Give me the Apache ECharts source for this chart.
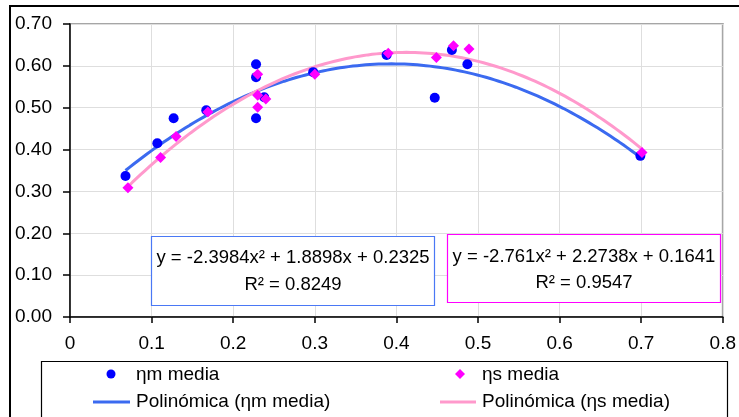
<!DOCTYPE html>
<html>
<head>
<meta charset="utf-8">
<script src="https://cdn.jsdelivr.net/npm/echarts@6/dist/echarts.min.js"></script>
<style>
  html, body { margin: 0; padding: 0; background: #ffffff; }
  #chart { width: 739px; height: 417px; }
</style>
</head>
<body>
<div id="chart"></div>
<script>
// Measured efficiencies against the abscissa
const xM = [0.068, 0.107, 0.127, 0.167, 0.228, 0.228, 0.228, 0.238, 0.298, 0.388, 0.447, 0.468, 0.487, 0.699];
const etaM = [0.337, 0.415, 0.475, 0.494, 0.604, 0.573, 0.475, 0.525, 0.585, 0.626, 0.524, 0.638, 0.604, 0.385];
const xS = [0.071, 0.111, 0.130, 0.169, 0.230, 0.230, 0.230, 0.240, 0.300, 0.390, 0.449, 0.470, 0.489, 0.701];
const etaS = [0.309, 0.381, 0.431, 0.490, 0.580, 0.530, 0.501, 0.521, 0.580, 0.630, 0.620, 0.648, 0.640, 0.393];

// Second-order polynomial trendlines: [a, b, c] for y = a x^2 + b x + c
const fitM = [-2.3984, 1.8898, 0.2325];
const r2M = 0.8249;
const fitS = [-2.761, 2.2738, 0.1641];
const r2S = 0.9547;

const xTicks = [0, 0.1, 0.2, 0.3, 0.4, 0.5, 0.6, 0.7, 0.8];
const yTicks = [0, 0.1, 0.2, 0.3, 0.4, 0.5, 0.6, 0.7];

const FONT = '"Liberation Sans", Arial, sans-serif';
const FS = 19;
const FS_EQ = 18.5;

const COL_M = '#0000ff';
const COL_S = '#ff00ff';
const COL_FIT_M = '#3b6af0';
const COL_FIT_S = '#ff99cc';

function zip(xs, ys) { return xs.map((x, i) => [x, ys[i]]); }

function trend(fit, xs) {
  const lo = Math.min(...xs), hi = Math.max(...xs);
  const pts = [];
  const n = 120;
  for (let i = 0; i <= n; i++) {
    const x = lo + (hi - lo) * i / n;
    pts.push([x, fit[0] * x * x + fit[1] * x + fit[2]]);
  }
  return pts;
}

function fmtEq(fit) {
  const s = v => (v < 0 ? '- ' : '+ ') + Math.abs(v);
  return 'y = ' + fit[0] + 'x\u00B2 ' + s(fit[1]) + 'x ' + s(fit[2]);
}

const names = ['ηm media', 'ηs media', 'Polinómica (ηm media)', 'Polinómica (ηs media)'];

function legendText(x, y, text) {
  return { type: 'text', x: x, y: y, z: 12, silent: true,
    style: { text: text, fontSize: FS, fontFamily: FONT, fill: '#000',
             textAlign: 'left', textVerticalAlign: 'middle' } };
}

function eqText(x, y, text) {
  return { type: 'text', x: x, y: y, z: 11, silent: true,
    style: { text: text, fontSize: FS_EQ, fontFamily: FONT, fill: '#000',
             textAlign: 'center', textVerticalAlign: 'middle' } };
}

const chart = echarts.init(document.getElementById('chart'), null, { renderer: 'canvas' });

const option = {
  backgroundColor: '#ffffff',
  animation: false,
  textStyle: { fontFamily: FONT },
  grid: {
    left: 70, top: 24, width: 659, height: 293,
    show: true, borderColor: '#a6a6a6', borderWidth: 2, backgroundColor: 'transparent'
  },
  xAxis: {
    type: 'value', min: xTicks[0], max: xTicks[xTicks.length - 1], interval: 0.1,
    axisLine: { show: true, onZero: false, lineStyle: { color: '#000', width: 1.5 } },
    axisTick: { show: true, inside: false, length: 6, lineStyle: { color: '#000', width: 1.5 } },
    splitLine: { show: true, lineStyle: { color: '#dedede', width: 1 } },
    axisLabel: {
      margin: 17, color: '#000', fontSize: FS, fontFamily: FONT,
      formatter: v => (Math.abs(v) < 1e-9 ? '0' : v.toFixed(1))
    }
  },
  yAxis: {
    type: 'value', min: yTicks[0], max: yTicks[yTicks.length - 1], interval: 0.1,
    axisLine: { show: true, onZero: false, lineStyle: { color: '#000', width: 1.5 } },
    axisTick: { show: true, inside: false, length: 7, lineStyle: { color: '#000', width: 1.5 } },
    splitLine: { show: true, lineStyle: { color: '#dedede', width: 1 } },
    axisLabel: {
      margin: 18, color: '#000', fontSize: FS, fontFamily: FONT,
      formatter: v => v.toFixed(2)
    }
  },
  series: [
    {
      name: names[2], type: 'line', symbol: 'none',
      data: trend(fitM, xM), lineStyle: { color: COL_FIT_M, width: 3 },
      itemStyle: { color: COL_FIT_M }, z: 2
    },
    {
      name: names[3], type: 'line', symbol: 'none',
      data: trend(fitS, xS), lineStyle: { color: COL_FIT_S, width: 3 },
      itemStyle: { color: COL_FIT_S }, z: 3
    },
    {
      name: names[0], type: 'scatter', symbol: 'circle', symbolSize: 10,
      data: zip(xM, etaM), itemStyle: { color: COL_M, opacity: 1 }, z: 4
    },
    {
      name: names[1], type: 'scatter', symbol: 'diamond', symbolSize: 11,
      data: zip(xS, etaS), itemStyle: { color: COL_S, opacity: 1 }, z: 5
    }
  ],
  graphic: [
    // outer chart frame
    { type: 'rect', shape: { x: 10, y: 6, width: 780, height: 460 },
      style: { fill: 'none', stroke: '#000', lineWidth: 2 }, z: 0, silent: true },
    // legend frame and entries
    { type: 'rect', shape: { x: 41.5, y: 361.5, width: 686, height: 80 },
      style: { fill: '#ffffff', stroke: '#000', lineWidth: 1.2 }, z: 10, silent: true },
    { type: 'circle', shape: { cx: 111, cy: 374, r: 4.5 }, style: { fill: COL_M }, z: 12, silent: true },
    legendText(136, 375, names[0]),
    { type: 'line', shape: { x1: 93, y1: 402, x2: 130, y2: 402 },
      style: { stroke: COL_FIT_M, lineWidth: 3 }, z: 12, silent: true },
    legendText(136, 402, names[2]),
    { type: 'polygon', shape: { points: [[460, 369], [465, 374], [460, 379], [455, 374]] },
      style: { fill: COL_S }, z: 12, silent: true },
    legendText(482, 375, names[1]),
    { type: 'line', shape: { x1: 440, y1: 402, x2: 476, y2: 402 },
      style: { stroke: COL_FIT_S, lineWidth: 3 }, z: 12, silent: true },
    legendText(482, 402, names[3]),
    // trendline equation boxes
    { type: 'rect', shape: { x: 151.5, y: 236.5, width: 283, height: 69 },
      style: { fill: '#ffffff', stroke: '#4a78f5', lineWidth: 1.2 }, z: 10, silent: true },
    eqText(293, 258, fmtEq(fitM)),
    eqText(293, 285, 'R\u00B2 = ' + r2M),
    { type: 'rect', shape: { x: 447.5, y: 234.5, width: 273, height: 68 },
      style: { fill: '#ffffff', stroke: COL_S, lineWidth: 1.2 }, z: 10, silent: true },
    eqText(584, 257, fmtEq(fitS)),
    eqText(584, 283, 'R\u00B2 = ' + r2S)
  ]
};

chart.setOption(option);
</script>
</body>
</html>
